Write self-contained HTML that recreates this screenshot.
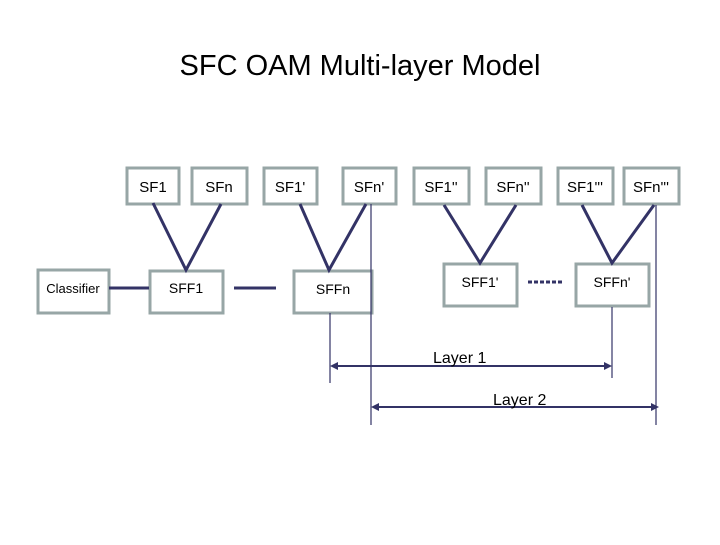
<!DOCTYPE html>
<html><head><style>
body{margin:0;width:720px;height:540px;background:#fff;overflow:hidden}
svg text{font-family:"Liberation Sans",Arial,sans-serif;fill:#000}
</style></head><body>
<svg width="720" height="540" viewBox="0 0 720 540">
<text x="360" y="75" font-size="29" text-anchor="middle">SFC OAM Multi-layer Model</text>
<g fill="#fff" stroke="#97a6a6" stroke-width="3">
<rect x="127" y="168" width="52" height="36"/>
<rect x="192" y="168" width="55" height="36"/>
<rect x="264" y="168" width="53" height="36"/>
<rect x="343" y="168" width="53" height="36"/>
<rect x="414" y="168" width="55" height="36"/>
<rect x="486" y="168" width="55" height="36"/>
<rect x="558" y="168" width="55" height="36"/>
<rect x="624" y="168" width="55" height="36"/>
<rect x="38" y="270" width="71" height="43"/>
<rect x="150" y="271" width="73" height="42"/>
<rect x="294" y="271" width="78" height="42"/>
<rect x="444" y="264" width="73" height="42"/>
<rect x="576" y="264" width="73" height="42"/>
</g>
<g font-size="15" text-anchor="middle">
<text x="153" y="192">SF1</text><text x="219" y="192">SFn</text>
<text x="290" y="192">SF1'</text><text x="369" y="192">SFn'</text>
<text x="441" y="192">SF1''</text><text x="513" y="192">SFn''</text>
<text x="585" y="192">SF1'''</text><text x="651" y="192">SFn'''</text>
<text x="73" y="293" font-size="13">Classifier</text>
<text x="186" y="293" font-size="14">SFF1</text>
<text x="333" y="294" font-size="14">SFFn</text>
<text x="480" y="287" font-size="14">SFF1'</text>
<text x="612" y="287" font-size="14">SFFn'</text>
</g>
<g stroke="#333366" stroke-width="3" fill="none">
<polyline points="153,203 186,270 221,204"/>
<polyline points="300,204 329,270 366,204"/>
<polyline points="444,205 480,263 516,205"/>
<polyline points="582,205 612,263 654,205"/>
<line x1="109" y1="288" x2="149" y2="288"/>
<line x1="234" y1="288" x2="276" y2="288"/>
<line x1="528" y1="282" x2="564" y2="282" stroke-dasharray="4,2"/>
</g>
<g stroke="#333366" stroke-width="1.2">
<line x1="371" y1="204" x2="371" y2="425"/>
<line x1="330" y1="313" x2="330" y2="383"/>
<line x1="612" y1="307" x2="612" y2="378"/>
<line x1="656" y1="205" x2="656" y2="425"/>
</g>
<g stroke="#333366" stroke-width="2">
<line x1="333" y1="366" x2="608" y2="366"/>
<line x1="375" y1="407" x2="654" y2="407"/>
</g>
<g fill="#333366">
<polygon points="330,366 338,362 338,370"/>
<polygon points="612,366 604,362 604,370"/>
<polygon points="371,407 379,403 379,411"/>
<polygon points="659,407 651,403 651,411"/>
</g>
<text x="433" y="363" font-size="16">Layer 1</text>
<text x="493" y="405" font-size="16">Layer 2</text>
</svg>
</body></html>
